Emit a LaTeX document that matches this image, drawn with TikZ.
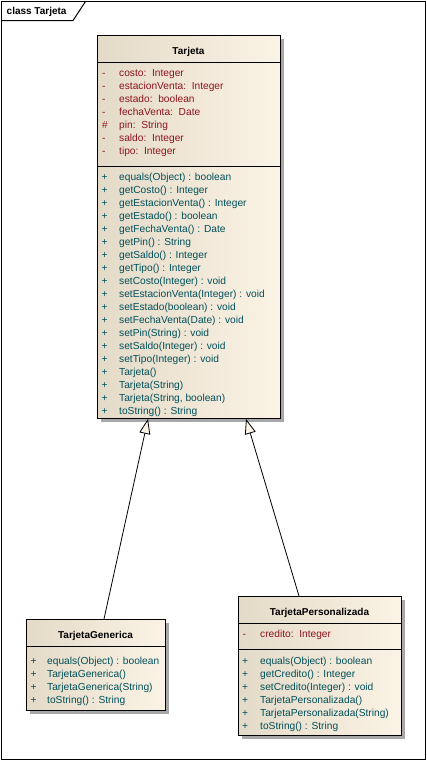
\documentclass[tikz,border=0pt]{standalone}
\usepackage{fontspec}
\setmainfont{Liberation Sans}
\usetikzlibrary{arrows.meta}
\definecolor{attrc}{RGB}{140,20,30}
\definecolor{methc}{RGB}{0,80,90}
\definecolor{fillL}{RGB}{228,218,200}
\definecolor{fillR}{RGB}{251,243,229}
\definecolor{shadowc}{RGB}{168,168,168}
\begin{document}
\begin{tikzpicture}[x=1pt,y=-1pt,
  classbox/.style={draw=black, line width=0.9pt, inner sep=0pt, anchor=north west, left color=fillL, right color=fillR},
  shadowbox/.style={fill=shadowc},
  sep/.style={draw=black, line width=0.9pt},
  cname/.style={font=\fontsize{10}{12}\selectfont\bfseries, anchor=base, inner sep=0pt},
  attr/.style={font=\fontsize{10.2}{12}\selectfont, text=attrc, anchor=base west, inner sep=0pt},
  meth/.style={font=\fontsize{10.2}{12}\selectfont, text=methc, anchor=base west, inner sep=0pt},
  inherit/.style={draw=black, line width=0.8pt, -{Triangle[length=15pt,width=11pt,fill=fillR]}}
]
\useasboundingbox (0,0) rectangle (427,761);
% frame
\draw[line width=1pt] (1.5,1.5) rectangle (425.5,759.5);
\draw[line width=1pt] (1.5,20.5) -- (73,20.5) -- (85.5,1.5);
\node[font=\fontsize{10}{12}\selectfont\bfseries, anchor=base west, inner sep=0pt] (frametitle) at (6.5,14.5) {class Tarjeta};

% shadows
\fill[shadowbox] (100.5,38.5) rectangle (283.5,421.5);
\fill[shadowbox] (29.5,622.5) rectangle (168.5,713.5);
\fill[shadowbox] (241.5,599.5) rectangle (404.5,738.5);

% Tarjeta
\node[classbox, minimum width=183pt, minimum height=383pt] (tar) at (97,35) {};
\draw[sep] (97,62) -- (280,62);
\draw[sep] (97,166) -- (280,166);
\node[cname] (tarname) at (188.5,54.3) {Tarjeta};
\foreach \mk/\a [count=\i from 0] in {-/{costo:~~Integer}, -/{estacionVenta:~~Integer}, -/{estado:~~boolean}, -/{fechaVenta:~~Date}, \#/{pin:~~String}, -/{saldo:~~Integer}, -/{tipo:~~Integer}}{
  \node[attr] (tak\i) at (102,{76+13*\i}) {\mk};
  \node[attr] (ta\i) at (119,{76+13*\i}) {\a};
}
\foreach \m [count=\i from 0] in {{equals(Object) : boolean}, {getCosto() : Integer}, {getEstacionVenta() : Integer}, {getEstado() : boolean}, {getFechaVenta() : Date}, {getPin() : String}, {getSaldo() : Integer}, {getTipo() : Integer}, {setCosto(Integer) : void}, {setEstacionVenta(Integer) : void}, {setEstado(boolean) : void}, {setFechaVenta(Date) : void}, {setPin(String) : void}, {setSaldo(Integer) : void}, {setTipo(Integer) : void}, {Tarjeta()}, {Tarjeta(String)}, {Tarjeta(String, boolean)}, {toString() : String}}{
  \node[meth] (tmk\i) at (101.5,{180+13*\i}) {+};
  \node[meth] (tm\i) at (119,{180+13*\i}) {\m};
}

% TarjetaGenerica
\node[classbox, minimum width=139pt, minimum height=91pt] (gen) at (26,619) {};
\draw[sep] (26,646) -- (165,646);
\node[cname] (genname) at (95.5,638) {TarjetaGenerica};
\foreach \m [count=\i from 0] in {{equals(Object) : boolean}, {TarjetaGenerica()}, {TarjetaGenerica(String)}, {toString() : String}}{
  \node[meth] (gmk\i) at (30.5,{664.5+13*\i}) {+};
  \node[meth] (gm\i) at (47,{664.5+13*\i}) {\m};
}

% TarjetaPersonalizada
\node[classbox, minimum width=163pt, minimum height=139pt] (per) at (238,596) {};
\draw[sep] (238,623.5) -- (401,623.5);
\draw[sep] (238,649.5) -- (401,649.5);
\node[cname] (pername) at (319.5,615.5) {TarjetaPersonalizada};
\node[attr] (pak0) at (242.5,637) {-};
\node[attr] (pa0) at (260,637) {credito:~~Integer};
\foreach \m [count=\i from 0] in {{equals(Object) : boolean}, {getCredito() : Integer}, {setCredito(Integer) : void}, {TarjetaPersonalizada()}, {TarjetaPersonalizada(String)}, {toString() : String}}{
  \node[meth] (pmk\i) at (242,{664+13*\i}) {+};
  \node[meth] (pm\i) at (260,{664+13*\i}) {\m};
}

% generalizations
\draw[inherit] ([xshift=78pt]gen.north west) -- ([xshift=51pt]tar.south west);
\draw[inherit] ([xshift=61pt]per.north west) -- ([xshift=149pt]tar.south west);
\end{tikzpicture}
\end{document}
